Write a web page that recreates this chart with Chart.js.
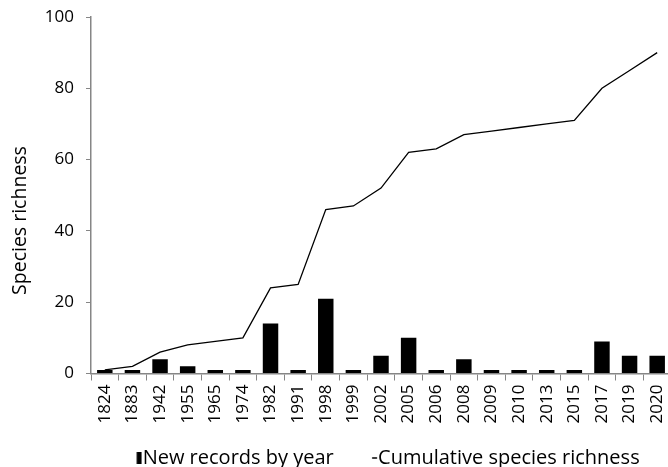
<!DOCTYPE html>
<html>
<head>
<meta charset="utf-8">
<script src="https://cdn.jsdelivr.net/npm/chart.js@4"></script>
<style>
  html, body { margin: 0; padding: 0; background: #fff; overflow: hidden; }
  #wrap { width: 671px; height: 478px; }
</style>
</head>
<body>
<div id="wrap"><canvas id="chart" width="671" height="478"></canvas></div>
<script>
const years = ["1824", "1883", "1942", "1955", "1965", "1974", "1982", "1991", "1998", "1999",
  "2002", "2005", "2006", "2008", "2009", "2010", "2013", "2015", "2017", "2019", "2020"];
const newRecords = [1, 1, 4, 2, 1, 1, 14, 1, 21, 1, 5, 10, 1, 4, 1, 1, 1, 1, 9, 5, 5];
const cumulative = [1, 2, 6, 8, 9, 10, 24, 25, 46, 47, 52, 62, 63, 67, 68, 69, 70, 71, 80, 85, 90];
const yTicks = [0, 20, 40, 60, 80, 100];
const yTitleText = "Species richness";

const FONT = "'Open Sans', sans-serif";
const AXIS_GREY = "#868686";

// small legend markers (bar block and line dash) sitting right against the text
function marker(draw) {
  const c = document.createElement("canvas");
  c.width = 30; c.height = 20;
  draw(c.getContext("2d"));
  return c;
}
const barMark = marker(ctx => { ctx.fillStyle = "#000"; ctx.fillRect(24.15, 4, 5, 12); });
const lineMark = marker(ctx => { ctx.fillStyle = "#000"; ctx.fillRect(24.15, 9.25, 5, 1.5); });

// y title centred on plot + x labels, like the original
const yTitle = {
  id: "yTitle",
  afterDraw(chart) {
    const { ctx, chartArea, scales } = chart;
    const cy = (chartArea.top + scales.x.bottom) / 2;
    ctx.save();
    ctx.translate(20, cy);
    ctx.rotate(-Math.PI / 2);
    ctx.font = "19.5px " + FONT;
    ctx.fillStyle = "#000";
    ctx.textAlign = "center";
    ctx.textBaseline = "middle";
    ctx.fillText(yTitleText, 0, 0);
    ctx.restore();
  }
};

const ctx = document.getElementById("chart").getContext("2d");

new Chart(ctx, {
  data: {
    labels: years,
    datasets: [
      {
        type: "bar",
        label: "New records by year",
        data: newRecords,
        backgroundColor: "#000",
        borderWidth: 0,
        categoryPercentage: 1,
        barPercentage: 0.56,
        order: 1
      },
      {
        type: "line",
        label: "Cumulative species richness",
        data: cumulative,
        borderColor: "#000",
        borderWidth: 1.3,
        pointRadius: 0,
        tension: 0,
        fill: false,
        order: 0
      }
    ]
  },
  plugins: [yTitle],
  options: {
    responsive: false,
    animation: false,
    layout: { padding: { top: 17, right: 0, left: 8, bottom: 0 } },
    plugins: {
      tooltip: { enabled: false },
      legend: {
        position: "bottom",
        fullSize: false,
        labels: {
          usePointStyle: true,
          pointStyleWidth: 10.3,
          padding: 24,
          color: "#000",
          font: { family: FONT, size: 20 },
          generateLabels: chart => chart.data.datasets.map((ds, i) => ({
            text: ds.label,
            pointStyle: ds.type === "bar" ? barMark : lineMark,
            fillStyle: "#000",
            strokeStyle: "#000",
            lineWidth: 0,
            hidden: false,
            datasetIndex: i
          }))
        }
      }
    },
    scales: {
      x: {
        offset: true,
        grid: {
          display: true,
          drawOnChartArea: false,
          offset: true,
          tickLength: 7,
          color: AXIS_GREY
        },
        border: { color: AXIS_GREY, width: 1.5 },
        ticks: {
          color: "#000",
          font: { family: FONT, size: 17 },
          minRotation: 90,
          maxRotation: 90,
          autoSkip: false,
          padding: 4
        },
        afterFit: scale => {
          scale.paddingLeft = 0;
          scale.paddingRight = 0;
          scale.height = 50.5;
        }
      },
      y: {
        min: 0,
        max: 100,
        afterBuildTicks: scale => { scale.ticks = yTicks.map(v => ({ value: v })); },
        afterFit: scale => {
          scale.width = 83;
          scale.paddingTop = 0;
          scale.paddingBottom = 0;
        },
        grid: {
          display: true,
          drawOnChartArea: false,
          tickLength: 5,
          color: AXIS_GREY
        },
        border: { color: AXIS_GREY, width: 1.5 },
        ticks: {
          color: "#000",
          font: { family: FONT, size: 17 },
          padding: 12
        }
      }
    }
  }
});
</script>
</body>
</html>
